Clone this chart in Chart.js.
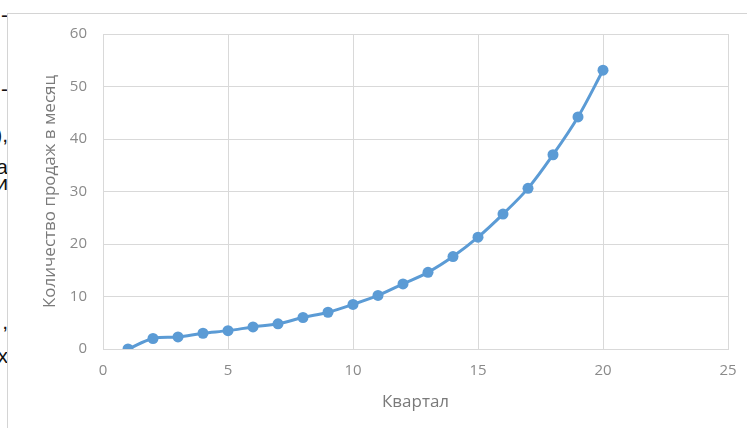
<!DOCTYPE html>
<html>
<head>
<meta charset="utf-8">
<script src="https://cdn.jsdelivr.net/npm/chart.js@4"></script>
<style>
  html, body { margin: 0; padding: 0; background: #fff; }
  body { width: 747px; height: 428px; position: relative; overflow: hidden; }
  #side { position: absolute; left: 0; top: 0; width: 8px; height: 428px; overflow: hidden; }
  #side span { position: absolute; right: 0; font: 21px "Liberation Sans", Arial, sans-serif; color: #111; line-height: 1; }
  #box { position: absolute; left: 7px; top: 13px; width: 740px; height: 415px;
         border-top: 1px solid #d4d4d4; border-left: 1px solid #d4d4d4; box-sizing: border-box; }
  #box canvas { display: block; }
</style>
</head>
<body>
<div id="side">
  <span style="top:4px">-</span>
  <span style="top:78px">-</span>
  <span style="top:124px">),</span>
  <span style="top:156px">а</span>
  <span style="top:172px">и</span>
  <span style="top:311px">,</span>
  <span style="top:345px">х</span>
</div>
<div id="box"><canvas id="chart" width="739" height="414"></canvas></div>
<script>
// Data
const quarters = [1, 2, 3, 4, 5, 6, 7, 8, 9, 10, 11, 12, 13, 14, 15, 16, 17, 18, 19, 20];
const sales = [0, 2.0, 2.3, 3.0, 3.5, 4.2, 4.8, 6.0, 7.0, 8.5, 10.2, 12.4, 14.6, 17.6, 21.3, 25.7, 30.6, 37.0, 44.2, 53.1];
const xTitle = 'Квартал';
const yTitle = 'Количество продаж в месяц';

const tickFont = { family: '"Open Sans", sans-serif', size: 15 };
const titleFont = { family: '"Open Sans", sans-serif', size: 17 };
const gray = '#8a8a8a';
const titleGray = '#7a7a7a';
const gridColor = '#d9d9d9';

const ctx = document.getElementById('chart').getContext('2d');
new Chart(ctx, {
  type: 'line',
  data: {
    datasets: [{
      data: quarters.map((q, i) => ({ x: q, y: sales[i] })),
      borderColor: '#5b9bd5',
      backgroundColor: '#5b9bd5',
      borderWidth: 3,
      pointRadius: 5.5,
      pointBorderWidth: 0,
      tension: 0.35,
      fill: false
    }]
  },
  options: {
    responsive: false,
    animation: false,
    layout: { padding: { top: 20, right: 19, bottom: 0, left: 0 } },
    plugins: { legend: { display: false }, tooltip: { enabled: false } },
    scales: {
      x: {
        type: 'linear',
        min: 0, max: 25,
        ticks: { stepSize: 5, color: gray, font: tickFont, padding: 13 },
        grid: { color: gridColor, drawTicks: false },
        border: { color: gridColor },
        title: { display: true, text: xTitle, color: titleGray, font: titleFont, padding: { top: 0, bottom: 16 } },
        afterFit: s => { s.height = 79; s.paddingRight = 0; s.paddingLeft = 0; }
      },
      y: {
        min: 0, max: 60,
        ticks: { stepSize: 10, color: gray, font: tickFont, padding: 16 },
        grid: { color: gridColor, drawTicks: false },
        border: { color: gridColor },
        title: { display: true, text: yTitle, color: titleGray, font: titleFont, padding: { top: 32, bottom: 0 } },
        afterFit: s => { s.width = 95; s.paddingTop = 0; s.paddingBottom = 0; }
      }
    }
  }
});
</script>
</body>
</html>
